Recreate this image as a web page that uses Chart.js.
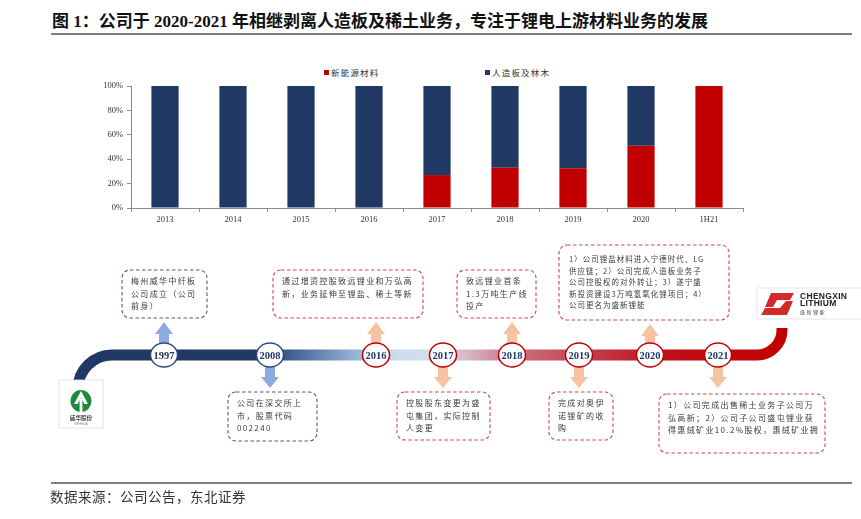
<!DOCTYPE html>
<html>
<head>
<meta charset="utf-8">
<script src="https://cdn.jsdelivr.net/npm/chart.js@4.4.1/dist/chart.umd.min.js"></script>
<style>
html,body{margin:0;padding:0;background:#fff;}
body{width:861px;height:519px;position:relative;overflow:hidden;font-family:"Noto Sans CJK SC",sans-serif;color:#333;}
#title{position:absolute;left:52px;top:10px;font-family:"Liberation Serif","Noto Sans CJK SC",serif;font-weight:bold;font-size:17px;line-height:24px;color:#111;white-space:nowrap;}
.rule{position:absolute;left:51px;width:801px;height:1.5px;background:#808080;}
#legend{position:absolute;left:324px;top:66px;font-size:8.5px;letter-spacing:1.2px;color:#333;white-space:nowrap;}
#legend .item{display:inline-block;width:161px;}
#legend .sw{display:inline-block;width:5px;height:5px;margin-right:2px;vertical-align:1px;}
#chartBox{position:absolute;left:80px;top:60px;width:680px;height:175px;}
#timeline{position:absolute;left:0;top:0;}
.note{position:absolute;white-space:pre;overflow:hidden;font-size:8px;letter-spacing:1.35px;line-height:12.5px;color:#3a3a3a;box-sizing:border-box;padding:5px 0 0 9px;}
#source{position:absolute;left:50px;top:486px;font-size:13.5px;line-height:20px;color:#333;letter-spacing:0.5px;}
</style>
</head>
<body>
<div id="title">图 1：公司于 2020-2021 年相继剥离人造板及稀土业务，专注于锂电上游材料业务的发展</div>
<div class="rule" style="top:33px"></div>
<div id="legend"></div>
<div id="chartBox"><canvas id="shareChart"></canvas></div>
<svg id="timeline" width="861" height="519" xmlns="http://www.w3.org/2000/svg"></svg>
<div id="notes"></div>
<div class="rule" style="top:482px"></div>
<div id="source">数据来源：公司公告，东北证券</div>

<script>
// revenue share by business, %
const years = ["2013","2014","2015","2016","2017","2018","2019","2020","1H21"];
const newEnergyShare = [0,0,0,0.5,27,33,32.5,51,100];
const boardShare = [100,100,100,99.5,73,67,67.5,49,0];
const seriesNames = ["新能源材料","人造板及林木"];

// timeline milestones
const milestoneYears = ["1997","2008","2016","2017","2018","2019","2020","2021"];
const milestoneNotes = [
"梅州威华中纤板\n公司成立（公司\n前身）",
"公司在深交所上\n市，股票代码\n002240",
"通过增资控股致远锂业和万弘高\n新，业务延伸至锂盐、稀土等新",
"控股股东变更为盛\n屯集团，实际控制\n人变更",
"致远锂业首条\n1.3万吨生产线\n投产",
"完成对奥伊\n诺锂矿的收\n购",
"1）公司锂盐材料进入宁德时代、LG\n供应链；2）公司完成人造板业务子\n公司控股权的对外转让；3）遂宁盛\n新投资建设3万吨氢氧化锂项目；4）\n公司更名为盛新锂能",
"1）公司完成出售稀土业务子公司万\n弘高新；2）公司子公司盛屯锂业获\n得惠绒矿业10.2%股权，惠绒矿业拥"
];

const RED = "#C00000";
const NAVY = "#1F3864";
const AXIS = "#8c8c8c";
const tickFont = {family:"Liberation Serif", size:8.5};

const chart = new Chart(document.getElementById("shareChart"), {
  type:"bar",
  data:{
    labels:years,
    datasets:[
      {label:seriesNames[0], data:newEnergyShare, backgroundColor:RED},
      {label:seriesNames[1], data:boardShare, backgroundColor:NAVY}
    ]
  },
  options:{
    responsive:true,
    maintainAspectRatio:false,
    animation:false,
    layout:{padding:{top:26,right:17,left:0,bottom:0}},
    plugins:{legend:{display:false},tooltip:{enabled:false}},
    datasets:{bar:{barPercentage:0.4,categoryPercentage:1}},
    scales:{
      x:{
        stacked:true,
        offset:true,
        grid:{display:true,drawOnChartArea:false,tickLength:4,color:AXIS,offset:true},
        border:{color:AXIS},
        ticks:{font:tickFont,color:"#333",padding:3,maxRotation:0},
        afterFit:s=>{s.height=27;}
      },
      y:{
        stacked:true,
        min:0,max:100,
        grid:{drawOnChartArea:false,tickLength:4,color:AXIS},
        border:{color:AXIS},
        ticks:{stepSize:20,font:tickFont,color:"#333",padding:4,callback:v=>v+"%"},
        afterFit:s=>{s.width=51;}
      }
    }
  }
});

// html legend from the datasets
document.getElementById("legend").innerHTML = chart.data.datasets.map(d =>
  '<span class="item"><span class="sw" style="background:'+d.backgroundColor+'"></span>'+d.label+'</span>'
).join("");

// ---- timeline drawing ----
const slotX = [164,270,376,443,512,579,650,718];
const slotUp = [true,false,true,false,true,false,true,false];
const slotNavy = [true,true,false,false,false,false,false,false];
const noteBox = [[122,270,85,48],[228,392,89,49],[273,270,150,48],[397,392,93,48],
                 [457,270,79,48],[549,392,64,48],[559,245,170,75],[659,394,166,59]];
const bandY = 355;

const svg = document.getElementById("timeline");
let s = "";
s += '<defs><linearGradient id="band" gradientUnits="userSpaceOnUse" x1="78" y1="0" x2="790" y2="0">'+
  '<stop offset="0" stop-color="#1F3864"/><stop offset="0.25" stop-color="#1F3864"/>'+
  '<stop offset="0.31" stop-color="#4B6A9A"/><stop offset="0.38" stop-color="#8EABD0"/>'+
  '<stop offset="0.445" stop-color="#C9DCEF"/><stop offset="0.49" stop-color="#D3DEEB"/>'+
  '<stop offset="0.545" stop-color="#D8B9C6"/><stop offset="0.61" stop-color="#C97482"/>'+
  '<stop offset="0.705" stop-color="#C24552"/><stop offset="0.82" stop-color="#C0101A"/>'+
  '<stop offset="1" stop-color="#C00000"/></linearGradient></defs>';
s += '<path d="M78,381 L78,389 A34,34 0 0 1 112,'+bandY+' L757,'+bandY+' A25,25 0 0 0 782,330 L782,328" fill="none" stroke="url(#band)" stroke-width="11"/>';

// note boxes
noteBox.forEach((b,i)=>{
  const col = slotNavy[i] ? "#4A5D80" : "#D04848";
  s += '<rect x="'+b[0]+'" y="'+b[1]+'" width="'+b[2]+'" height="'+b[3]+'" rx="8" fill="#fff" stroke="'+col+'" stroke-width="1.1" stroke-dasharray="3.5 2.5"/>';
});

// arrows
slotX.forEach((x,i)=>{
  const col = slotNavy[i] ? "#8FAADC" : "#F6C2A2";
  let pts;
  if (slotUp[i]) {
    const tip = i===6 ? 324 : 322;
    pts = [[x,tip],[x+9,tip+12],[x+5,tip+12],[x+5,343],[x-5,343],[x-5,tip+12],[x-9,tip+12]];
  } else {
    pts = [[x-5,367],[x+5,367],[x+5,377],[x+9,377],[x,388],[x-9,377],[x-5,377]];
  }
  s += '<polygon points="'+pts.map(p=>p.join(",")).join(" ")+'" fill="'+col+'"/>';
});

// year circles
slotX.forEach((x,i)=>{
  const col = slotNavy[i] ? "#2F4A7F" : RED;
  s += '<ellipse cx="'+x+'" cy="'+bandY+'" rx="13.5" ry="12" fill="#fff" stroke="'+col+'" stroke-width="1.5"/>';
  s += '<text x="'+x+'" y="'+(bandY+3.8)+'" text-anchor="middle" font-family="Liberation Serif" font-weight="bold" font-size="10.5" fill="'+NAVY+'">'+milestoneYears[i]+'</text>';
});

// Weihua logo
s += '<rect x="59" y="380" width="44" height="48" fill="#fff" stroke="#dedede" stroke-width="0.8"/>';
s += '<ellipse cx="81" cy="401" rx="10.5" ry="11" fill="#1E8A3C"/>';
s += '<polygon points="81,391 88,404 84.5,404 81,398 77.5,404 74,404" fill="#fff"/>';
s += '<rect x="79.6" y="399" width="2.8" height="13" fill="#fff"/>';
s += '<text x="81" y="420" text-anchor="middle" font-family="Noto Sans CJK SC" font-weight="bold" font-size="5.6" fill="#444">威华股份</text>';
s += '<text x="81" y="425" text-anchor="middle" font-family="Liberation Sans" font-size="3.4" fill="#888">WEIHUA</text>';

// Chengxin logo
s += '<rect x="757" y="288" width="110" height="31" fill="#fff" stroke="#dedede" stroke-width="0.8"/>';
s += '<polygon points="771,293 794,293 790,300 777,300 773,307 765,307" fill="#D42A2A"/>';
s += '<polygon points="786,301 793,301 787,315 761,315 765,308 780,308" fill="#D42A2A"/>';
s += '<text x="800" y="298.5" font-family="Liberation Sans" font-weight="bold" font-size="8.5" letter-spacing="0.3" fill="#222">CHENGXIN</text>';
s += '<text x="800" y="306" font-family="Liberation Sans" font-weight="bold" font-size="8.5" letter-spacing="0.3" fill="#222">LITHIUM</text>';
s += '<text x="800" y="313.5" font-family="Noto Sans CJK SC" font-size="5" letter-spacing="1.5" fill="#444">盛新锂能</text>';
svg.innerHTML = s;

// note texts
const notes = document.getElementById("notes");
milestoneNotes.forEach((t,i)=>{
  const b = noteBox[i];
  const d = document.createElement("div");
  d.className = "note";
  d.style.left = b[0]+"px"; d.style.top = b[1]+"px";
  d.style.width = b[2]+"px"; d.style.height = (b[3]-2)+"px";
  if (i===6) { d.style.fontSize="7.5px"; d.style.letterSpacing="1px"; d.style.lineHeight="11.6px"; d.style.padding="8px 0 0 10px"; }
  d.textContent = t;
  notes.appendChild(d);
});
</script>
</body>
</html>
